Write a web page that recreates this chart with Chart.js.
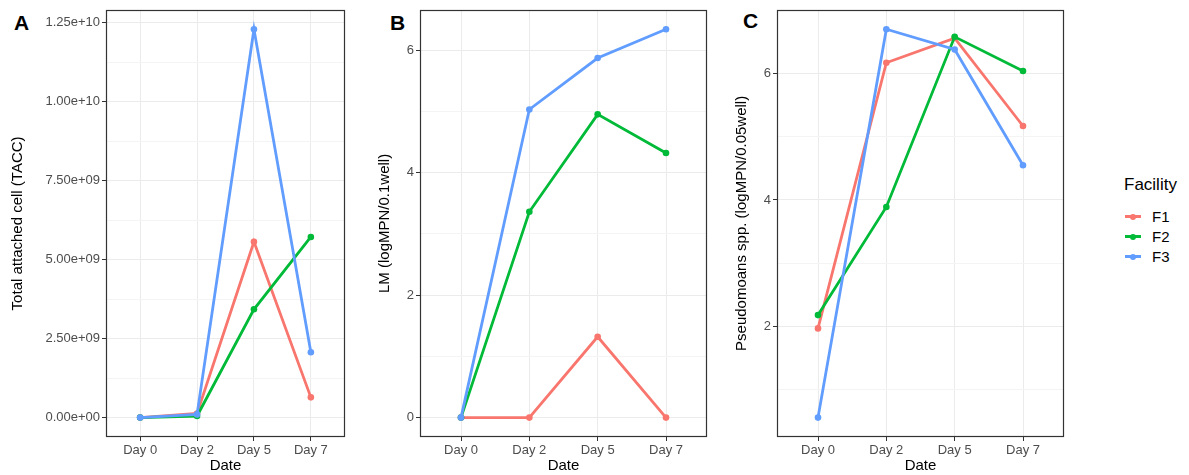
<!DOCTYPE html>
<html><head><meta charset="utf-8">
<script src="https://cdn.jsdelivr.net/npm/chart.js@4.4.1/dist/chart.umd.min.js"></script>
<style>
html,body{margin:0;padding:0;background:#fff;width:1189px;height:475px;overflow:hidden;font-family:"Liberation Sans",Arial,sans-serif;}
canvas{position:absolute;top:0;}
.tag{position:absolute;font-weight:bold;font-size:21px;line-height:21px;color:#000;}
#legend{position:absolute;left:1124px;top:175.8px;}
#legend .ttl{font-size:17px;line-height:17px;color:#000;height:30.9px;}
#legend .row{position:relative;height:20px;line-height:20px;font-size:15px;color:#000;}
#legend .key{position:absolute;left:1px;top:8.7px;width:16px;height:2.8px;}
#legend .dot{position:absolute;left:5px;top:-1.6px;width:6px;height:6px;border-radius:3px;}
#legend .lab{position:absolute;left:28px;top:0;}
</style>
</head><body>
<div class="tag" style="left:14px;top:12px;">A</div>
<div class="tag" style="left:390px;top:12px;">B</div>
<div class="tag" style="left:743px;top:10px;">C</div>
<canvas id="pA" width="350" height="475" style="left:0px;width:350px;height:475px;"></canvas>
<canvas id="pB" width="352" height="475" style="left:360px;width:352px;height:475px;"></canvas>
<canvas id="pC" width="342" height="475" style="left:727px;width:342px;height:475px;"></canvas>
<div id="legend"></div>
<script>
// ---- data ----
const days = ['Day 0', 'Day 2', 'Day 5', 'Day 7'];
const facilities = ['F1', 'F2', 'F3'];
const colors = ['#F8766D', '#00BA38', '#619CFF'];

const taccF1 = [0, 1.3e8, 5.57e9, 6.4e8];
const taccF2 = [0, 5.0e7, 3.43e9, 5.72e9];
const taccF3 = [0, 1.0e8, 1.230e10, 2.07e9];

const lmF1 = [0, 0, 1.32, 0];
const lmF2 = [0, 3.36, 4.95, 4.32];
const lmF3 = [0, 5.03, 5.87, 6.34];

const psF1 = [1.97, 6.17, 6.56, 5.17];
const psF2 = [2.18, 3.89, 6.58, 6.04];
const psF3 = [0.56, 6.70, 6.38, 4.55];

const taccMajor = [0, 2.5e9, 5.0e9, 7.5e9, 1.0e10, 1.25e10];
const taccMajorLabels = ['0.00e+00', '2.50e+09', '5.00e+09', '7.50e+09', '1.00e+10', '1.25e+10'];
const taccMinor = [1.25e9, 3.75e9, 6.25e9, 8.75e9, 1.125e10];

const lmMajor = [0, 2, 4, 6];
const lmMajorLabels = ['0', '2', '4', '6'];
const lmMinor = [1, 3, 5];

const psMajor = [2, 4, 6];
const psMajorLabels = ['2', '4', '6'];
const psMinor = [1, 3, 5, 7];

// ---- drawing ----
const FAM = '"Liberation Sans", Arial, sans-serif';
const frame = {
  id: 'frame',
  afterDraw(chart) {
    const { ctx, chartArea: a } = chart;
    ctx.save();
    ctx.strokeStyle = '#333333';
    ctx.lineWidth = 1.2;
    ctx.strokeRect(Math.round(a.left) + 0.5, Math.round(a.top) + 0.5,
      Math.round(a.right - a.left) - 1, Math.round(a.bottom - a.top) - 1);
    ctx.restore();
  }
};

function makePanel(id, o) {
  const all = o.series.flat();
  const lo = Math.min(...all), hi = Math.max(...all), ex = (hi - lo) * 0.05;
  const tv = o.major.map((v, i) => ({ value: v, major: true, label: o.majorLabels[i] }))
    .concat(o.minor.map(v => ({ value: v, major: false, label: '' })))
    .filter(t => t.value >= lo - ex && t.value <= hi + ex)
    .sort((a, b) => a.value - b.value);
  new Chart(document.getElementById(id), {
    type: 'line',
    data: {
      datasets: o.series.map((s, i) => ({
        label: facilities[i],
        data: s.map((y, j) => ({ x: j, y: y })),
        borderColor: colors[i], backgroundColor: colors[i],
        borderWidth: 2.8, pointRadius: 3.3, pointHoverRadius: 3.3, pointBorderWidth: 0,
        tension: 0, order: 3 - i
      }))
    },
    options: {
      responsive: false, animation: false, events: [],
      layout: { padding: { left: o.padLeft, right: 5, top: 8, bottom: 0 } },
      plugins: { legend: { display: false }, tooltip: { enabled: false } },
      scales: {
        x: {
          type: 'linear', min: -0.6, max: days.length - 1 + 0.6,
          afterBuildTicks: s => { s.ticks = days.map((_, i) => ({ value: i })); },
          afterFit: s => { s.height = 38; },
          ticks: { callback: v => days[v] ?? '', color: '#4D4D4D', font: { size: 13, family: FAM }, padding: 2, maxRotation: 0, autoSkip: false },
          grid: { color: '#EBEBEB', lineWidth: 1, tickLength: 4, tickColor: '#333333', tickWidth: 1 },
          border: { display: false },
          title: { display: true, text: 'Date', color: '#000', font: { size: 15, family: FAM }, padding: { top: 0, bottom: 0 } }
        },
        y: {
          type: 'linear', min: lo - ex, max: hi + ex,
          afterBuildTicks: s => { s.ticks = tv.map(t => ({ value: t.value })); },
          afterFit: s => { s.width = o.axisWidth; },
          ticks: { callback: (v, i) => tv[i] ? tv[i].label : '', color: '#4D4D4D', font: { size: 13, family: FAM }, padding: 2, autoSkip: false },
          grid: {
            color: c => (tv[c.index] && tv[c.index].major) ? '#EBEBEB' : '#F4F4F4',
            lineWidth: 1, tickLength: 4,
            tickColor: c => (tv[c.index] && tv[c.index].major) ? '#333333' : 'rgba(0,0,0,0)',
            tickWidth: 1
          },
          border: { display: false },
          title: { display: true, text: o.yTitle, color: '#000', font: { size: 15, family: FAM }, padding: { top: 0, bottom: 0 } }
        }
      }
    },
    plugins: [frame]
  });
}

makePanel('pA', { series: [taccF1, taccF2, taccF3], major: taccMajor, majorLabels: taccMajorLabels, minor: taccMinor,
  yTitle: 'Total attached cell (TACC)', padLeft: 9, axisWidth: 97 });
makePanel('pB', { series: [lmF1, lmF2, lmF3], major: lmMajor, majorLabels: lmMajorLabels, minor: lmMinor,
  yTitle: 'LM (logMPN/0.1well)', padLeft: 16, axisWidth: 44 });
makePanel('pC', { series: [psF1, psF2, psF3], major: psMajor, majorLabels: psMajorLabels, minor: psMinor,
  yTitle: 'Pseudomoans spp. (logMPN/0.05well)', padLeft: 6, axisWidth: 44 });

// legend
const lg = document.getElementById('legend');
let html = '<div class="ttl">Facility</div>';
facilities.forEach((f, i) => {
  html += '<div class="row"><div class="key" style="background:' + colors[i] + '"><div class="dot" style="background:' + colors[i] + '"></div></div><div class="lab">' + f + '</div></div>';
});
lg.innerHTML = html;
</script>
</body></html>
